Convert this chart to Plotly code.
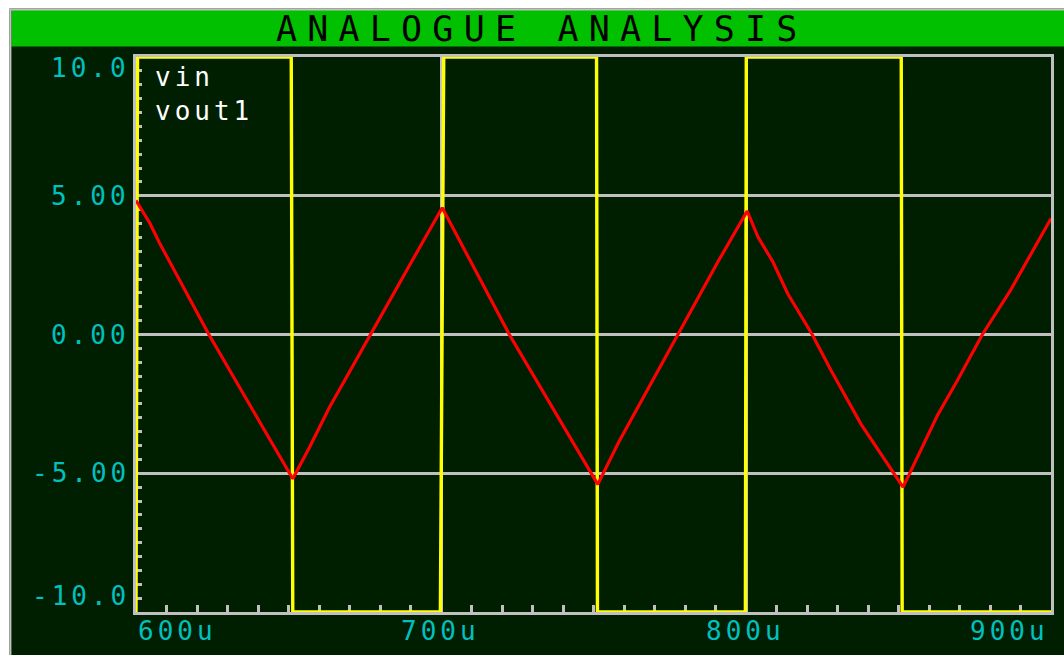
import plotly.graph_objects as go

# ---- data (time in microseconds, volts) ----
vin_t = [600.0, 600.5, 650.9, 651.4, 699.8, 700.9, 751.0, 751.3, 799.8, 800.1, 850.9, 851.2, 900.0]
vin_v = [-10, 10, 10, -10, -10, 10, 10, -10, -10, 10, 10, -10, -10]

vout_t = [600.0, 604.6, 607.8, 623.9, 641.6, 651.4, 656.9, 663.4, 692.8, 700.4,
          722.4, 751.4, 758.2, 790.8, 800.4, 803.9, 808.8, 813.7,
          821.7, 827.9, 837.7, 851.5, 862.7, 869.3, 877.5, 886.7, 900.0]
vout_v = [4.83, 4.00, 3.28, 0.00, -3.35, -5.20, -4.06, -2.63, 3.10, 4.57,
          0.00, -5.40, -3.89, 2.62, 4.45, 3.52, 2.62, 1.47,
          0.00, -1.30, -3.23, -5.50, -2.93, -1.66, 0.00, 1.59, 4.18]

y_tick_vals = [10, 5, 0, -5, -10]
y_tick_text = ["10.0", "5.00", "0.00", "-5.00", "-10.0"]
x_tick_vals = [600, 700, 800, 900]
x_tick_text = ["600u", "700u", "800u", "900u"]
series_names = ["vin", "vout1"]
title_text = "ANALOGUE ANALYSIS"

# ---- styling ----
BG = "#001f00"
GREEN = "#00c000"
GRAY = "#c0c0c0"
CYAN = "#00c0c0"
FONT = "DejaVu Sans Mono"

W, H = 1064, 655
ML, MR, MT, MB = 136, 10, 57, 43
PW, PH = W - ML - MR, H - MT - MB


def px(xp):
    return (xp - ML) / PW


def py(yp):
    return (H - MB - yp) / PH


fig = go.Figure()
fig.add_trace(go.Scatter(x=vin_t, y=vin_v, mode="lines", name=series_names[0],
                         line=dict(color="#ffff00", width=3.4), cliponaxis=False))
fig.add_trace(go.Scatter(x=vout_t, y=vout_v, mode="lines", name=series_names[1],
                         line=dict(color="#ff0000", width=3.2), cliponaxis=False))

shapes = [
    dict(type="rect", xref="paper", yref="paper", x0=px(-5), x1=px(W + 5), y0=py(-5), y1=py(8.5),
         fillcolor="white", line=dict(width=0), layer="above"),
    dict(type="rect", xref="paper", yref="paper", x0=px(-5), x1=px(9), y0=py(-5), y1=py(H + 5),
         fillcolor="white", line=dict(width=0), layer="above"),
    dict(type="rect", xref="paper", yref="paper", x0=px(11), x1=px(W + 5), y0=py(10), y1=py(46.5),
         fillcolor=GREEN, line=dict(width=0), layer="above"),
    dict(type="line", xref="paper", yref="paper", x0=px(9), x1=px(W + 5), y0=py(9.5), y1=py(9.5),
         line=dict(color=GRAY, width=2), layer="above"),
    dict(type="line", xref="paper", yref="paper", x0=px(10), x1=px(10), y0=py(9), y1=py(H + 5),
         line=dict(color=GRAY, width=2), layer="above"),
]

annotations = [
    dict(text='<span style="letter-spacing:10.2px">' + title_text + '</span>',
         xref="paper", yref="paper", x=px(543), y=py(28.5), xanchor="center", yanchor="middle",
         showarrow=False, font=dict(family=FONT, size=35, color="black")),
    dict(text='<span style="letter-spacing:4px">' + "<br>".join(series_names) + '</span>',
         xref="paper", yref="paper", x=px(153), y=py(60), xanchor="left", yanchor="top",
         align="left", showarrow=False, font=dict(family=FONT, size=26, color="white")),
]

y_shift = {10: -11, -10: 16}
for v, t in zip(y_tick_vals, y_tick_text):
    annotations.append(dict(
        text='<span style="letter-spacing:4px">' + t + '</span>',
        xref="paper", yref="y", x=0, y=v, xanchor="right", yanchor="middle",
        xshift=-4, yshift=y_shift.get(v, 0), showarrow=False,
        font=dict(family=FONT, size=26, color=CYAN)))

x_anchor = {600: ("left", 0), 700: ("center", -1), 800: ("center", -1), 900: ("right", 0)}
for v, t in zip(x_tick_vals, x_tick_text):
    anc, sh = x_anchor[v]
    annotations.append(dict(
        text='<span style="letter-spacing:4px">' + t + '</span>',
        xref="x", yref="paper", x=v, y=0, xanchor=anc, yanchor="middle",
        xshift=sh, yshift=-19, showarrow=False,
        font=dict(family=FONT, size=26, color=CYAN)))

fig.update_layout(
    width=W, height=H,
    margin=dict(l=ML, r=MR, t=MT, b=MB, pad=0),
    paper_bgcolor=BG, plot_bgcolor=BG,
    showlegend=False,
    shapes=shapes,
    annotations=annotations,
    xaxis=dict(range=[600, 900], tick0=600, dtick=100, showgrid=True, gridcolor=GRAY, gridwidth=3,
               showticklabels=False, ticks="", zeroline=False,
               showline=True, mirror=True, linecolor=GRAY, linewidth=3, layer="below traces",
               minor=dict(dtick=10, tick0=600, ticks="inside", ticklen=7, tickwidth=2.5,
                          tickcolor=GRAY, showgrid=False)),
    yaxis=dict(range=[-10, 10], tick0=0, dtick=5, showgrid=True, gridcolor=GRAY, gridwidth=3,
               showticklabels=False, ticks="", zeroline=False,
               showline=True, mirror=True, linecolor=GRAY, linewidth=3, layer="below traces",
               minor=dict(dtick=0.5, tick0=0, ticks="inside", ticklen=6, tickwidth=2.5,
                          tickcolor=GRAY, showgrid=False)),
)

fig.write_html("out.html", config={"displayModeBar": False},
               post_script="document.body.style.margin='0';document.body.style.background='#001f00';")
